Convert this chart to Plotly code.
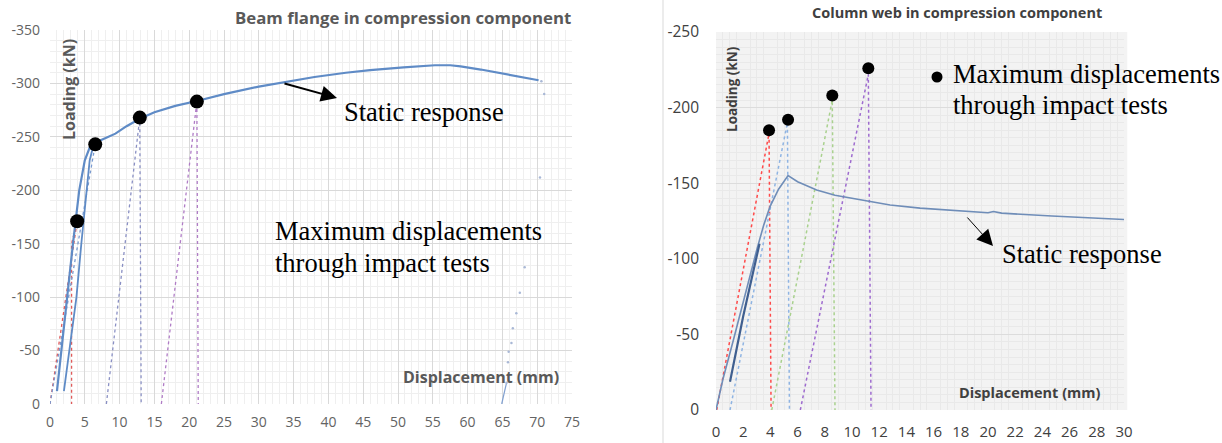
import plotly.graph_objects as go

W, H = 1222, 443

# ---------------- data: left panel (Beam flange in compression) ----------------
L_STATIC_X = [1.0, 2.4, 3.3, 4.2, 5.0, 5.7, 6.3, 8.0, 9.4, 11.0, 12.9, 15.0, 18.0, 21.4, 25.0,
              30.0, 33.7, 38.0, 42.5, 46.0, 50.8, 55.3, 57.5, 59.0, 61.9, 65.8, 68.0, 70.2]
L_STATIC_Y = [-12, -100, -150, -200, -228, -240, -244, -249, -253, -260, -267, -273, -279, -284, -290,
              -297, -301, -306, -310, -312.5, -315, -317, -317, -316, -313, -308.6, -306, -303]
L_RELOAD_X = [2.0, 3.8, 4.5, 5.2, 5.7, 6.2]
L_RELOAD_Y = [-12, -100, -150, -200, -228, -241]
L_TAIL_X = [70.6, 71.0, 70.4, 68.2, 67.5, 67.0, 66.5, 66.3, 65.9, 65.8, 65.6]
L_TAIL_Y = [-302, -290, -212, -128, -104, -85, -71, -57, -49, -39, -20]
L_TAIL_END_X = [65.6, 64.9]
L_TAIL_END_Y = [-20, 0]

L_T1_X = [0.0, 3.9, 3.1, 3.1]
L_T1_Y = [0, -171, -150, 0]
L_T2_X = [0.0, 6.5]
L_T2_Y = [0, -243]
L_T3_X = [8.1, 12.9, 13.1]
L_T3_Y = [0, -268, 0]
L_T4_X = [16.0, 21.1, 21.3]
L_T4_Y = [0, -283, 0]
L_DOTS_X = [3.9, 6.5, 12.9, 21.1]
L_DOTS_Y = [-171, -243, -268, -283]

L_Y_TICKS = [0, -50, -100, -150, -200, -250, -300, -350]
L_Y_LABELS = ["0", "-50", "-100", "-150", "-200", "-250", "-300", "-350"]

# ---------------- data: right panel (Column web in compression) ----------------
R_STATIC_X = [0, 0.5, 1.27, 2.0, 3.0, 3.5, 3.97, 4.6, 5.3, 6.0, 7.4, 8.75, 9.4, 11.3, 12.8, 15.0,
              18.6, 20.0, 20.4, 21.0, 24.7, 28.0, 30.0]
R_STATIC_Y = [0, -20, -46, -72, -106, -122, -134.5, -146, -155, -151, -145.5, -142, -141, -137.8,
              -135.6, -133.5, -131, -130.5, -131.3, -130.2, -128.3, -127, -126]
R_RELOAD_X = [1.03, 2.0, 3.2]
R_RELOAD_Y = [-18.7, -62, -110]

R_T1_X = [0.05, 3.9, 4.05]
R_T1_Y = [0, -183, 0]
R_T2_X = [1.03, 5.25, 5.4]
R_T2_Y = [0, -190, 0]
R_T3_X = [4.1, 8.55, 8.75]
R_T3_Y = [0, -205, 0]
R_T4_X = [6.2, 11.2, 11.4]
R_T4_Y = [0, -222, 0]
R_DOTS_X = [3.9, 5.3, 8.55, 11.2]
R_DOTS_Y = [-185, -192, -208, -226]

R_Y_TICKS = [0, -50, -100, -150, -200, -250]
R_Y_LABELS = ["0", "-50", "-100", "-150", "-200", "-250"]


def px(x):
    return x / W


def py(y):
    return 1 - y / H


fig = go.Figure()


def line(x, y, color, width, dash="solid", axis=1, opacity=1.0):
    xa, ya = ("x", "y") if axis == 1 else ("x2", "y2")
    fig.add_trace(go.Scatter(x=x, y=y, mode="lines", xaxis=xa, yaxis=ya, opacity=opacity,
                             line=dict(color=color, width=width, dash=dash), showlegend=False,
                             hoverinfo="skip"))


# left traces
line(L_T1_X, L_T1_Y, "#e05a5a", 1.3, "dot")
line(L_T2_X, L_T2_Y, "#7a9bd0", 1.3, "dot")
line(L_T3_X, L_T3_Y, "#8a90c4", 1.3, "dot")
line(L_T4_X, L_T4_Y, "#b07cc6", 1.3, "dot")
line(L_RELOAD_X, L_RELOAD_Y, "#5f8bc6", 1.8)
line(L_STATIC_X, L_STATIC_Y, "#5f8bc6", 2.2)
line(L_TAIL_END_X, L_TAIL_END_Y, "#7f9fd0", 1.2)
fig.add_trace(go.Scatter(x=L_TAIL_X, y=L_TAIL_Y, mode="markers", xaxis="x", yaxis="y",
                         marker=dict(color="#a9b8d6", size=2.5), showlegend=False, hoverinfo="skip"))
fig.add_trace(go.Scatter(x=L_DOTS_X, y=L_DOTS_Y, mode="markers", xaxis="x", yaxis="y",
                         marker=dict(color="black", size=14), showlegend=False, hoverinfo="skip"))

# right traces
line(R_T1_X, R_T1_Y, "#ff4a4a", 1.5, "dot", 2)
line(R_T2_X, R_T2_Y, "#8fb4e3", 1.5, "dot", 2)
line(R_T3_X, R_T3_Y, "#a9d18e", 1.5, "dot", 2)
line(R_T4_X, R_T4_Y, "#9e6bcf", 1.5, "dot", 2)
line(R_STATIC_X, R_STATIC_Y, "#6f8db8", 1.6, "solid", 2)
line(R_RELOAD_X, R_RELOAD_Y, "#3f5f90", 2.2, "solid", 2)
fig.add_trace(go.Scatter(x=R_DOTS_X, y=R_DOTS_Y, mode="markers", xaxis="x2", yaxis="y2",
                         marker=dict(color="black", size=12), showlegend=False, hoverinfo="skip"))

TICKFONT_L = dict(family="Open Sans", size=14, color="#636363")
TICKFONT_R = dict(family="Open Sans", size=15.5, color="#404040")
TICKFONT_RX = dict(family="Open Sans", size=15, color="#404040")

fig.update_layout(
    width=W, height=H, margin=dict(l=0, r=0, t=0, b=0, autoexpand=False),
    paper_bgcolor="white", plot_bgcolor="rgba(0,0,0,0)",
    xaxis=dict(domain=[px(50), px(572)], range=[0, 75], tick0=0, dtick=5, anchor="y", automargin=False,
               showgrid=True, gridcolor="#d9d9d9", gridwidth=1, zeroline=False, showline=False,
               ticks="", tickfont=TICKFONT_L, ticklabelstandoff=8,
               minor=dict(tickmode="linear", tick0=0, dtick=1, showgrid=True, gridcolor="#efefef", gridwidth=1)),
    yaxis=dict(domain=[py(404), py(30)], range=[0, -350], tickmode="array", tickvals=L_Y_TICKS,
               ticktext=L_Y_LABELS, anchor="x", automargin=False, showgrid=True, gridcolor="#d9d9d9", gridwidth=1,
               zeroline=False, showline=False, ticks="", tickfont=TICKFONT_L, ticklabelstandoff=9,
               minor=dict(tickmode="linear", tick0=0, dtick=10, showgrid=True, gridcolor="#efefef", gridwidth=1)),
    xaxis2=dict(domain=[px(716), px(1124)], range=[0, 30], tick0=0, dtick=2, anchor="y2", automargin=False,
                showgrid=False, zeroline=False, showline=False, ticks="", tickfont=TICKFONT_RX,
                ticklabelstandoff=11,
                minor=dict(tickmode="linear", tick0=0, dtick=0.5, showgrid=True, gridcolor="#e9e9e9", gridwidth=0.6)),
    yaxis2=dict(domain=[py(410), py(32)], range=[0, -250], tickmode="array", tickvals=R_Y_TICKS,
                ticktext=R_Y_LABELS, anchor="x2", automargin=False, showgrid=True, gridcolor="#dcdcdc", gridwidth=1,
                zeroline=False, showline=False, ticks="", tickfont=TICKFONT_R, ticklabelstandoff=16,
                minor=dict(tickmode="linear", tick0=0, dtick=5, showgrid=True, gridcolor="#e9e9e9", gridwidth=0.6)),
)

shapes = [
    dict(type="rect", xref="x2 domain", yref="y2 domain", x0=0, x1=1.008, y0=0, y1=1,
         fillcolor="#f3f3f3", line=dict(width=0), layer="below"),
    dict(type="line", xref="paper", yref="paper", x0=px(663), x1=px(663), y0=0, y1=1,
         line=dict(color="#d9d9d9", width=1)),
    dict(type="rect", xref="paper", yref="paper", x0=px(262), x1=px(556), y0=py(298), y1=py(196),
         fillcolor="white", line=dict(width=0), layer="between"),
    dict(type="circle", xref="paper", yref="paper", x0=px(931.5), x1=px(942.5), y0=py(82.5), y1=py(71.5),
         fillcolor="black", line=dict(width=0)),
]
fig.update_layout(shapes=shapes)

ann = []


def text(x, y, s, font, xanchor="left", angle=0):
    ann.append(dict(x=px(x), y=py(y), xref="paper", yref="paper", text=s, showarrow=False,
                    xanchor=xanchor, yanchor="middle", font=font, textangle=angle))


BOLD_L = dict(family="Open Sans", size=16.8, color="#595959", weight="bold")
SERIF = dict(family="Liberation Serif", size=26.5, color="black")

text(573, 18, "Beam flange in compression component", BOLD_L, "right")
text(957, 12, "Column web in compression component", dict(family="Open Sans", size=14.5, color="#404040", weight="bold"), "center")
text(69, 90, "Loading (kN)", dict(family="Open Sans", size=16, color="#595959", weight="bold"), "center", -90)
text(732, 89, "Loading (kN)", dict(family="Open Sans", size=13.5, color="#404040", weight="bold"), "center", -90)
text(481, 377, "Displacement (mm)", dict(family="Open Sans", size=16, color="#595959", weight="bold"), "center")
text(1030, 392, "Displacement (mm)", dict(family="Open Sans", size=14.5, color="#404040", weight="bold"), "center")

text(342, 112, "Static response", SERIF)
text(273, 231, "Maximum displacements", SERIF)
text(273, 263, "through impact tests", SERIF)
text(951, 74, "Maximum displacements", SERIF)
text(951, 105, "through impact tests", SERIF)
text(1000, 254, "Static response", SERIF)

# arrows
ann.append(dict(x=px(337), y=py(98), xref="paper", yref="paper", ax=-54, ay=-15, text="",
                showarrow=True, arrowhead=2, arrowsize=1.6, arrowwidth=2, arrowcolor="black"))
ann.append(dict(x=px(993), y=py(246), xref="paper", yref="paper", ax=-27, ay=-30, text="",
                showarrow=True, arrowhead=2, arrowsize=3.2, arrowwidth=1, arrowcolor="black"))

fig.update_layout(annotations=ann)

fig.write_html("out.html", config={"displayModeBar": False},
               post_script="document.body.style.margin='0';document.body.style.overflow='hidden';")
